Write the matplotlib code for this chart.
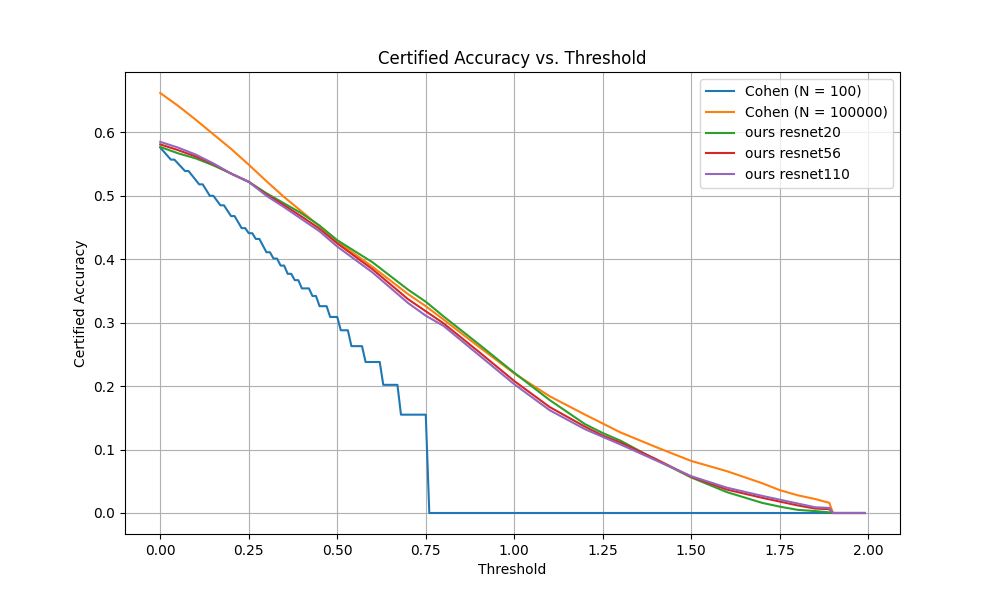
"""
Certified accuracy vs. threshold for Cohen baselines and our models.
"""

import matplotlib
matplotlib.use('Agg')
import matplotlib.pyplot as plt

# Cohen (N = 100): staircase vertices
cohen100_x = [0.00, 0.03, 0.04, 0.07, 0.08, 0.11, 0.12, 0.14, 0.15, 0.17,
              0.18, 0.20, 0.21, 0.23, 0.24, 0.25, 0.26, 0.27, 0.28, 0.30,
              0.31, 0.32, 0.33, 0.34, 0.35, 0.36, 0.37, 0.38, 0.39, 0.40,
              0.42, 0.43, 0.44, 0.45, 0.47, 0.48, 0.50, 0.51, 0.53, 0.54,
              0.57, 0.58, 0.62, 0.63, 0.67, 0.68, 0.75, 0.76, 1.99]
cohen100_y = [0.576, 0.557, 0.557, 0.539, 0.539, 0.518, 0.518, 0.500, 0.500, 0.485,
              0.485, 0.468, 0.468, 0.449, 0.449, 0.441, 0.441, 0.432, 0.432, 0.411,
              0.411, 0.401, 0.401, 0.390, 0.390, 0.377, 0.377, 0.367, 0.367, 0.354,
              0.354, 0.342, 0.342, 0.326, 0.326, 0.309, 0.309, 0.288, 0.288, 0.263,
              0.263, 0.238, 0.238, 0.202, 0.202, 0.155, 0.155, 0.000, 0.000]

thr = [0.00, 0.05, 0.10, 0.15, 0.20, 0.25, 0.30, 0.35, 0.40, 0.45,
       0.50, 0.60, 0.70, 0.75, 0.80, 0.90, 1.00, 1.10, 1.20, 1.25,
       1.30, 1.40, 1.50, 1.60, 1.70, 1.75, 1.80, 1.85, 1.89, 1.90, 1.99]

cohen100k = [0.662, 0.642, 0.620, 0.597, 0.574, 0.549, 0.523, 0.498, 0.475, 0.452,
             0.428, 0.388, 0.345, 0.326, 0.305, 0.262, 0.220, 0.184, 0.155, 0.141,
             0.127, 0.104, 0.082, 0.066, 0.047, 0.036, 0.028, 0.022, 0.016, 0.000, 0.000]
resnet20 = [0.577, 0.567, 0.559, 0.548, 0.535, 0.522, 0.504, 0.488, 0.472, 0.453,
            0.430, 0.395, 0.352, 0.333, 0.310, 0.266, 0.221, 0.178, 0.140, 0.126,
            0.114, 0.084, 0.056, 0.033, 0.016, 0.010, 0.005, 0.003, 0.001, 0.000, 0.000]
resnet56 = [0.581, 0.572, 0.562, 0.550, 0.535, 0.522, 0.502, 0.485, 0.467, 0.448,
            0.425, 0.384, 0.337, 0.318, 0.299, 0.254, 0.208, 0.167, 0.136, 0.122,
            0.111, 0.085, 0.057, 0.037, 0.024, 0.018, 0.012, 0.007, 0.006, 0.000, 0.000]
resnet110 = [0.585, 0.576, 0.565, 0.551, 0.535, 0.522, 0.500, 0.482, 0.463, 0.444,
             0.420, 0.379, 0.331, 0.311, 0.295, 0.249, 0.203, 0.162, 0.132, 0.120,
             0.108, 0.083, 0.058, 0.040, 0.027, 0.021, 0.015, 0.009, 0.008, 0.000, 0.000]

fig, ax = plt.subplots(figsize=(10, 6), dpi=100)

ax.plot(cohen100_x, cohen100_y, label='Cohen (N = 100)')
ax.plot(thr, cohen100k, label='Cohen (N = 100000)')
ax.plot(thr, resnet20, label='ours resnet20')
ax.plot(thr, resnet56, label='ours resnet56')
ax.plot(thr, resnet110, label='ours resnet110')

ax.set_title('Certified Accuracy vs. Threshold')
ax.set_xlabel('Threshold')
ax.set_ylabel('Certified Accuracy')
ax.legend(loc='upper right')
ax.grid(True)

fig.savefig('out.png')
